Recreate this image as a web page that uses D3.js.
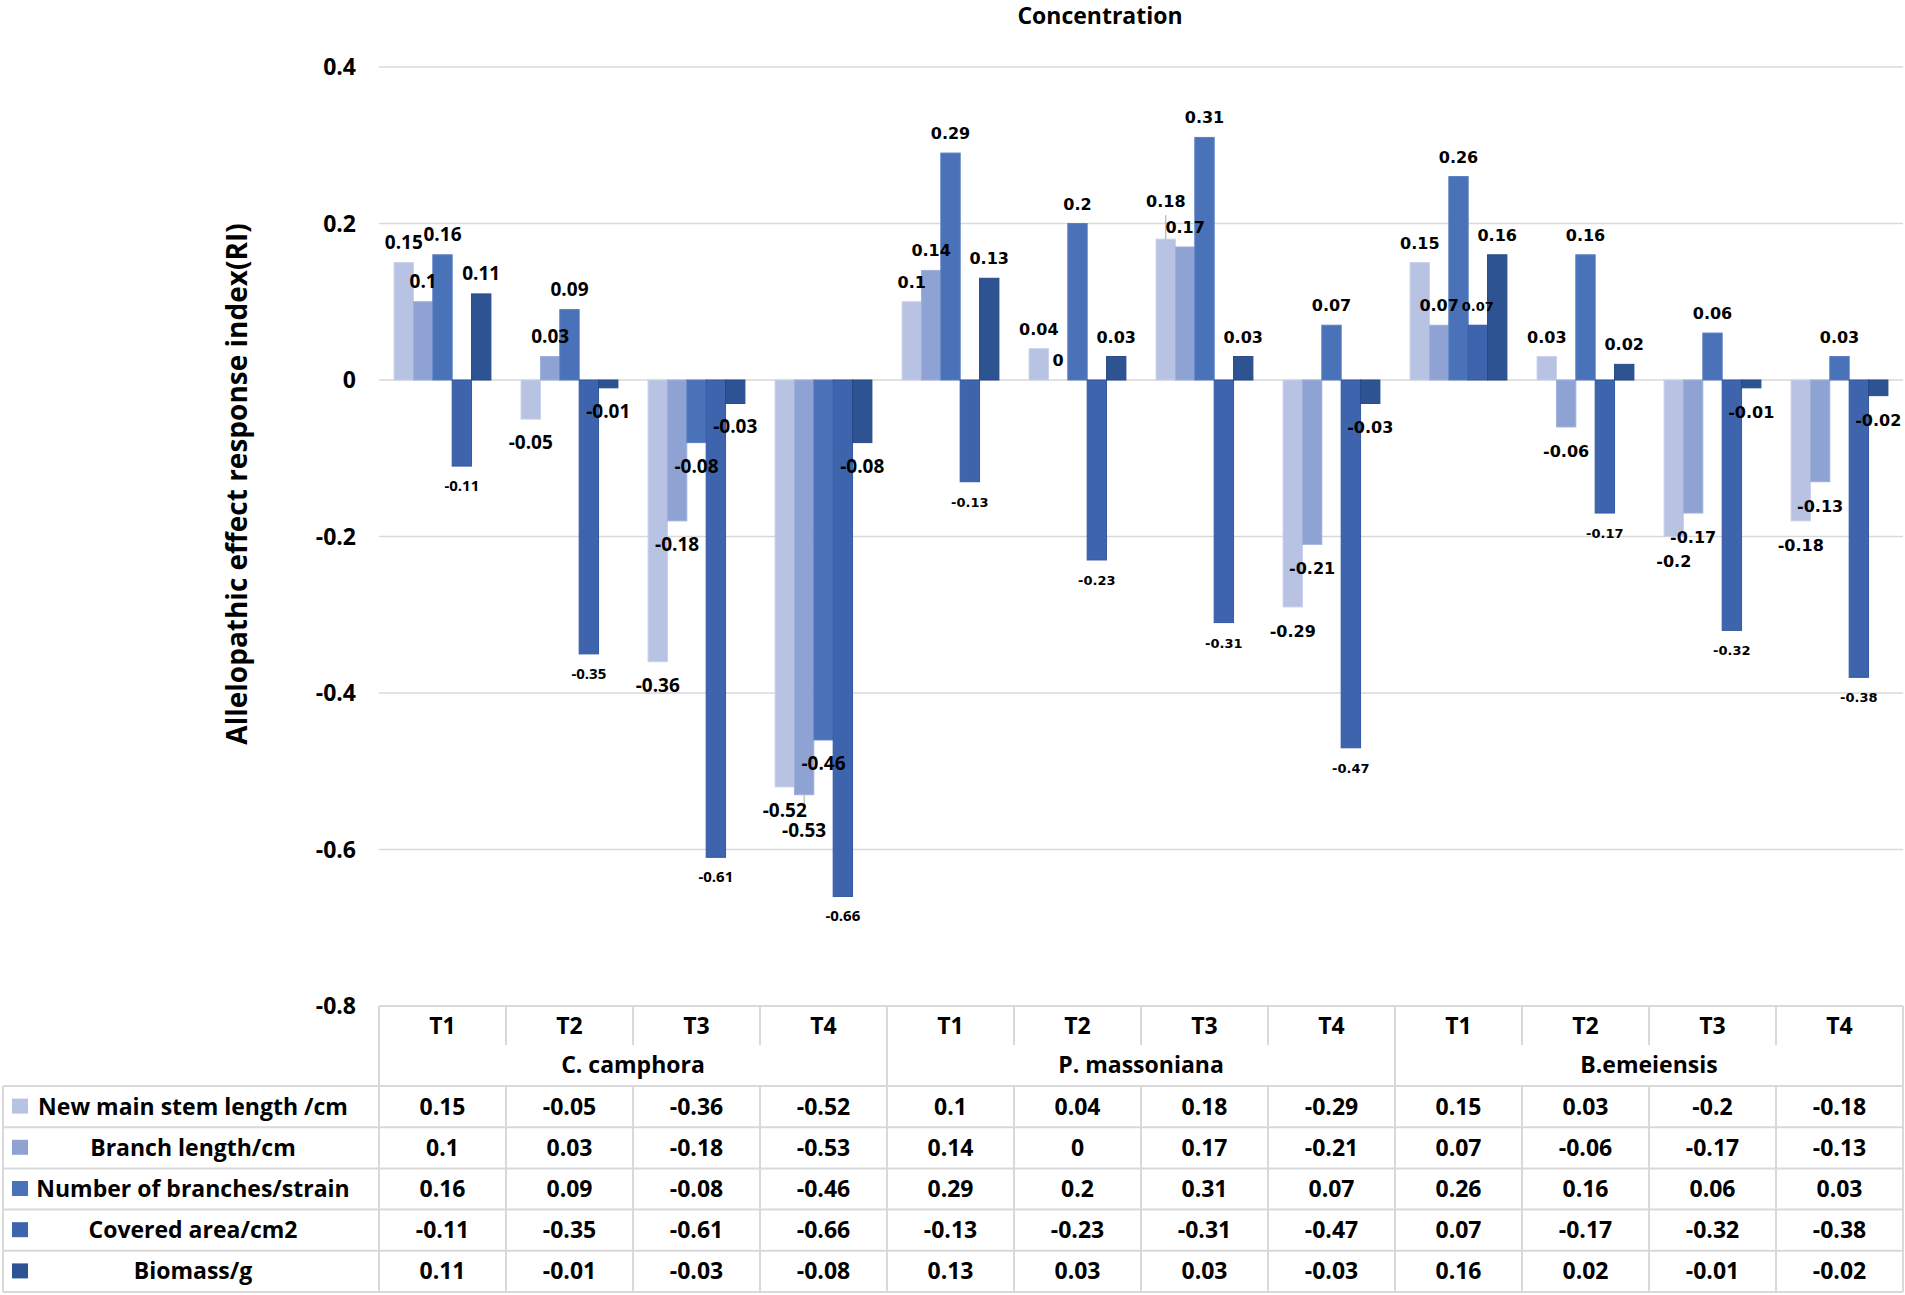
<!DOCTYPE html>
<html>
<head>
<meta charset="utf-8">
<script src="https://cdn.jsdelivr.net/npm/d3@7"></script>
<style>
  body { margin: 0; background: #fff; }
  text { font-family: "Open Sans", "Noto Sans", sans-serif; font-weight: 700; fill: #000; }
</style>
</head>
<body>
<div id="chart"></div>
<script>
// data
const species = ["C. camphora", "P. massoniana", "B.emeiensis"];
const treatments = ["T1", "T2", "T3", "T4"];
const seriesNames = ["New main stem length /cm", "Branch length/cm", "Number of branches/strain", "Covered area/cm2", "Biomass/g"];
const newMainStem = [0.15, -0.05, -0.36, -0.52, 0.1, 0.04, 0.18, -0.29, 0.15, 0.03, -0.2, -0.18];
const branchLength = [0.1, 0.03, -0.18, -0.53, 0.14, 0, 0.17, -0.21, 0.07, -0.06, -0.17, -0.13];
const branchNumber = [0.16, 0.09, -0.08, -0.46, 0.29, 0.2, 0.31, 0.07, 0.26, 0.16, 0.06, 0.03];
const coveredArea = [-0.11, -0.35, -0.61, -0.66, -0.13, -0.23, -0.31, -0.47, 0.07, -0.17, -0.32, -0.38];
const biomass = [0.11, -0.01, -0.03, -0.08, 0.13, 0.03, 0.03, -0.03, 0.16, 0.02, -0.01, -0.02];
const yTicks = [0.4, 0.2, 0, -0.2, -0.4, -0.6, -0.8];

const seriesValues = [newMainStem, branchLength, branchNumber, coveredArea, biomass];
const colors = ["#b8c2e2", "#8fa2d4", "#4a72b8", "#3d64ad", "#2e5393"];
const strokes = ["#c9d1ea", "#9fb0da", "#5a7fc2", "#3459a3", "#284a88"];

const W = 1905, H = 1295;
const plotLeft = 379, plotRight = 1903, plotTop = 67, plotBottom = 1006;
const gridColor = "#d9d9d9";

const svg = d3.select("#chart").append("svg")
  .attr("width", W)
  .attr("height", H);

const cats = d3.range(species.length * treatments.length);

const x0 = d3.scaleBand().domain(cats).range([plotLeft, plotRight]).padding(0);
const x1 = d3.scaleBand().domain(d3.range(seriesNames.length))
  .range([0, x0.bandwidth()]).paddingInner(0).paddingOuter(0.78);
const y = d3.scaleLinear().domain([-0.8, 0.4]).range([plotBottom, plotTop]);

// title
svg.append("text")
  .attr("x", 1100).attr("y", 24)
  .attr("text-anchor", "middle")
  .style("font-size", "23px")
  .text("Concentration");

// y axis title
svg.append("text")
  .attr("transform", "translate(247,484) rotate(-90)")
  .attr("text-anchor", "middle")
  .style("font-size", "28px")
  .text("Allelopathic effect response index(RI)");

// gridlines
svg.append("g")
  .selectAll("line")
  .data(yTicks.filter(d => d > -0.8))
  .join("line")
  .attr("x1", plotLeft).attr("x2", plotRight)
  .attr("y1", d => y(d)).attr("y2", d => y(d))
  .attr("stroke", gridColor).attr("stroke-width", 1.5);

// y tick labels
svg.append("g")
  .selectAll("text")
  .data(yTicks)
  .join("text")
  .attr("x", 356).attr("y", d => y(d) + 8)
  .attr("text-anchor", "end")
  .style("font-size", "23px")
  .text(d => String(d));

// bars
const flat = [];
seriesValues.forEach((vals, s) => vals.forEach((v, c) => flat.push({ s, c, v })));

svg.append("g")
  .selectAll("rect")
  .data(flat)
  .join("rect")
  .attr("x", d => x0(d.c) + x1(d.s))
  .attr("width", x1.bandwidth())
  .attr("y", d => Math.min(y(d.v), y(0)))
  .attr("height", d => Math.abs(y(d.v) - y(0)))
  .attr("fill", d => colors[d.s])
  .attr("stroke", d => strokes[d.s])
  .attr("stroke-width", 1);

// data labels - first species uses a narrower font, the others a wide one
const nudges = { "1-3": 12, "0-6": -18 };
const labelFont = d => {
  const wide = d.c >= treatments.length;
  if (wide) return { fam: "'DejaVu Sans', Verdana, sans-serif", size: d.s === 3 ? 13 : 16 };
  return { fam: "'Open Sans', sans-serif", size: d.s === 3 ? 15 : 19 };
};
const labelY = d => {
  const end = y(d.v);
  const base = d.v >= 0 ? end - 14 : end + (d.s === 3 ? 25 : 30);
  return base + (nudges[d.s + "-" + d.c] || 0);
};
const cx = d => x0(d.c) + x1(d.s) + x1.bandwidth() / 2;

svg.append("g")
  .selectAll("line")
  .data(flat.filter(d => nudges[d.s + "-" + d.c]))
  .join("line")
  .attr("x1", cx).attr("x2", cx)
  .attr("y1", d => y(d.v))
  .attr("y2", d => d.v >= 0 ? labelY(d) + 8 : y(d.v) + 10)
  .attr("stroke", "#a6a6a6").attr("stroke-width", 1);

svg.append("g")
  .selectAll("text")
  .data(flat)
  .join("text")
  .attr("x", cx)
  .attr("y", labelY)
  .attr("text-anchor", "middle")
  .style("font-family", d => labelFont(d).fam)
  .style("font-size", d => labelFont(d).size + "px")
  .text(d => String(d.v));

// data table under the plot
const rowTop = 1086, rowH = 41.2;
const tableLeft = 3;
const tbl = svg.append("g").attr("stroke", gridColor).attr("stroke-width", 2);

tbl.append("line").attr("x1", plotLeft).attr("x2", plotRight).attr("y1", plotBottom).attr("y2", plotBottom);
seriesNames.forEach((n, i) => {
  const yy = rowTop + i * rowH;
  tbl.append("line").attr("x1", tableLeft).attr("x2", plotRight).attr("y1", yy).attr("y2", yy);
});
const tableBottom = rowTop + seriesNames.length * rowH;
tbl.append("line").attr("x1", tableLeft).attr("x2", plotRight).attr("y1", tableBottom).attr("y2", tableBottom);
tbl.append("line").attr("x1", tableLeft).attr("x2", tableLeft).attr("y1", rowTop).attr("y2", tableBottom);

// vertical separators
cats.concat([cats.length]).forEach(c => {
  const xx = c < cats.length ? x0(c) : plotRight;
  const groupEdge = c % treatments.length === 0;
  tbl.append("line")
    .attr("x1", xx).attr("x2", xx)
    .attr("y1", plotBottom)
    .attr("y2", groupEdge ? tableBottom : 1045);
  if (!groupEdge) {
    tbl.append("line").attr("x1", xx).attr("x2", xx).attr("y1", rowTop).attr("y2", tableBottom);
  }
});

// treatment headers
svg.append("g")
  .selectAll("text")
  .data(cats)
  .join("text")
  .attr("x", c => x0(c) + x0.bandwidth() / 2)
  .attr("y", 1034)
  .attr("text-anchor", "middle")
  .style("font-size", "23px")
  .text(c => treatments[c % treatments.length]);

// species headers
svg.append("g")
  .selectAll("text")
  .data(species)
  .join("text")
  .attr("x", (d, i) => (x0(i * 4) + x0(i * 4 + 3) + x0.bandwidth()) / 2)
  .attr("y", 1073)
  .attr("text-anchor", "middle")
  .style("font-size", "23px")
  .text(d => d);

// legend rows with values
seriesNames.forEach((name, s) => {
  const cy = rowTop + s * rowH + rowH / 2;
  const row = svg.append("g");
  row.append("rect")
    .attr("x", 12).attr("y", cy - 8)
    .attr("width", 16).attr("height", 15)
    .attr("fill", colors[s]);
  row.append("text")
    .attr("x", 193).attr("y", cy + 8)
    .attr("text-anchor", "middle")
    .style("font-size", "23px")
    .text(name);
  row.selectAll("text.val")
    .data(seriesValues[s])
    .join("text")
    .attr("class", "val")
    .attr("x", (v, c) => x0(c) + x0.bandwidth() / 2)
    .attr("y", cy + 8)
    .attr("text-anchor", "middle")
    .style("font-size", "23px")
    .text(v => String(v));
});
</script>
</body>
</html>
